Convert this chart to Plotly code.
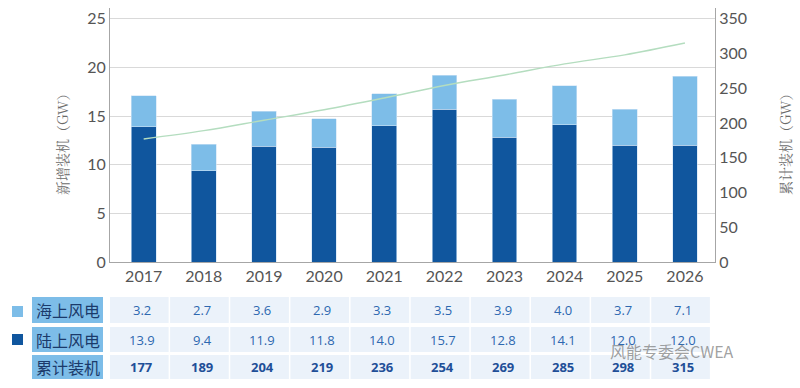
import plotly.graph_objects as go

years = ["2017", "2018", "2019", "2020", "2021", "2022", "2023", "2024", "2025", "2026"]
offshore = [3.2, 2.7, 3.6, 2.9, 3.3, 3.5, 3.9, 4.0, 3.7, 7.1]
onshore = [13.9, 9.4, 11.9, 11.8, 14.0, 15.7, 12.8, 14.1, 12.0, 12.0]
cumulative = [177, 189, 204, 219, 236, 254, 269, 285, 298, 315]
row_labels = ["海上风电", "陆上风电", "累计装机"]
left_title = "新增装机（GW）"
right_title = "累计装机（GW）"
watermark = "风能专委会CWEA"

W, H = 800, 388
L, R, T, B = 110, 715, 8, 262

def px(x):
    return (x - L) / (R - L)

def py(y):
    return (B - y) / (B - T)

LIGHT = "#7dbde8"
DARK = "#10569e"
CELL = "#ebf2fa"
CJK = "Noto Sans CJK SC"

fig = go.Figure()
fig.add_bar(x=years, y=onshore, name=row_labels[1], marker=dict(color=DARK, line=dict(color="#cfe3f5", width=0.6)))
fig.add_bar(x=years, y=offshore, name=row_labels[0], marker=dict(color=LIGHT, line=dict(color="#cfe3f5", width=0.6)))
fig.add_scatter(x=years, y=cumulative, yaxis="y2", mode="lines", name=row_labels[2],
                line=dict(color="#b4ddbf", width=1.4, shape="spline"))

shapes = []
annotations = []
rows = [(297, 323), (327, 352), (355, 379)]
row_data = [offshore, onshore, cumulative]

def ann(**kw):
    d = dict(showarrow=False, xanchor="center", yanchor="middle")
    d.update(kw)
    annotations.append(d)

for r, (y0, y1) in enumerate(rows):
    shapes.append(dict(type="rect", xref="paper", yref="paper", x0=px(32), x1=px(103),
                       y0=py(y1), y1=py(y0), fillcolor=LIGHT, line=dict(width=0), layer="below"))
    ann(xref="paper", yref="paper", x=px(67.5), y=py((y0 + y1) / 2), text=row_labels[r],
        font=dict(family=CJK, size=16, color="#1b3a6b"))
    for i, v in enumerate(row_data[r]):
        shapes.append(dict(type="rect", xref="x", yref="paper", x0=i - 0.56, x1=i + 0.415,
                           y0=py(y1), y1=py(y0), fillcolor=CELL, line=dict(width=0), layer="below"))
        txt = f"{v:.1f}" if r < 2 else f"<b>{v}</b>"
        ann(xref="x", yref="paper", x=i - 0.03, y=py((y0 + y1) / 2), text=txt,
            font=dict(family="Open Sans", size=13, color="#2d68b0" if r < 2 else "#1f4f98"))

shapes.append(dict(type="rect", xref="paper", yref="paper", x0=px(12), x1=px(23), y0=py(317), y1=py(306),
                   fillcolor=LIGHT, line=dict(width=0)))
shapes.append(dict(type="rect", xref="paper", yref="paper", x0=px(12), x1=px(23), y0=py(345), y1=py(334),
                   fillcolor=DARK, line=dict(width=0)))

ann(xref="paper", yref="paper", x=px(62), y=py(141), text=left_title, textangle=-90,
    font=dict(family="Noto Serif CJK SC, " + CJK, size=14, color="#6b6b6b"))
ann(xref="paper", yref="paper", x=px(785), y=py(141), text=right_title, textangle=-90,
    font=dict(family="Noto Serif CJK SC, " + CJK, size=14, color="#6b6b6b"))
ann(xref="paper", yref="paper", x=px(672), y=py(351), text=watermark,
    font=dict(family=CJK, size=16, color="rgba(120,120,120,0.7)"))

fig.update_layout(
    width=W, height=H,
    margin=dict(l=L, r=W - R, t=T, b=H - B),
    paper_bgcolor="white", plot_bgcolor="white",
    barmode="stack", bargap=0.59,
    showlegend=False,
    shapes=shapes, annotations=annotations,
    xaxis=dict(type="category", showline=True, linecolor="#a6a6a6", linewidth=1, ticks="",
               tickfont=dict(family="Lato", size=16, color="#555555"), showgrid=False),
    yaxis=dict(range=[0, 26.1], dtick=5, showgrid=True, gridcolor="#d9d9d9", gridwidth=1,
               showline=True, linecolor="#a6a6a6", zeroline=False, ticks="",
               tickfont=dict(family="Lato", size=16, color="#555555")),
    yaxis2=dict(range=[0, 365.4], dtick=50, overlaying="y", side="right", showgrid=False,
                showline=True, linecolor="#a6a6a6", zeroline=False, ticks="",
                tickfont=dict(family="Lato", size=16, color="#555555")),
)

fig.write_html("out.html", config={"displayModeBar": False},
               post_script="document.body.style.margin='0px';document.body.style.overflow='hidden';")
